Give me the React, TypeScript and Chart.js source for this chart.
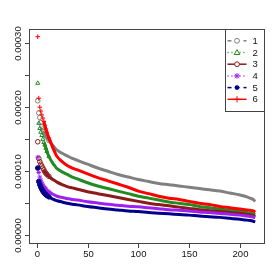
import React, { useEffect, useRef } from "react";
import { Chart, registerables } from "chart.js";
Chart.register(...registerables);

// x positions (index of the sorted values)
const xs = [1, 2, 3, 4, 5, 6, 7, 8, 9, 10, 12, 14, 16, 18, 20, 25, 30, 35, 40, 50, 60, 70, 80, 90, 100, 110, 120, 130, 140, 150, 160, 170, 180, 190, 200, 205, 210, 213, 215];

// values in units of 1e-5
const unit = 1e-5;
const series1 = [21.0, 19.1, 18.4, 17.6, 17.0, 16.6, 16.2, 15.9, 15.6, 15.3, 14.8, 14.4, 14.0, 13.6, 13.3, 12.8, 12.4, 12.0, 11.7, 11.1, 10.5, 10.0, 9.5, 9.1, 8.7, 8.4, 8.1, 7.9, 7.7, 7.5, 7.3, 7.1, 6.9, 6.6, 6.3, 6.1, 5.8, 5.6, 5.3];
const series2 = [23.75, 17.5, 16.7, 16.1, 15.6, 15.0, 14.5, 14.1, 13.6, 13.1, 12.3, 11.7, 11.2, 10.8, 10.4, 9.9, 9.5, 9.1, 8.8, 8.2, 7.7, 7.3, 6.9, 6.5, 6.1, 5.8, 5.5, 5.2, 5.0, 4.8, 4.5, 4.3, 4.1, 3.9, 3.7, 3.6, 3.45, 3.35, 3.2];
const series3 = [14.6, 12.0, 11.5, 11.1, 10.8, 10.5, 10.2, 9.9, 9.7, 9.5, 9.2, 8.9, 8.7, 8.5, 8.3, 7.9, 7.6, 7.4, 7.2, 6.8, 6.5, 6.2, 5.9, 5.6, 5.3, 5.0, 4.8, 4.6, 4.4, 4.2, 4.0, 3.85, 3.7, 3.55, 3.4, 3.3, 3.15, 3.05, 2.9];
const series4 = [12.2, 9.8, 9.1, 8.6, 8.2, 7.9, 7.6, 7.4, 7.2, 7.0, 6.8, 6.6, 6.4, 6.25, 6.1, 5.9, 5.75, 5.6, 5.5, 5.25, 5.05, 4.85, 4.7, 4.55, 4.45, 4.3, 4.15, 4.0, 3.9, 3.8, 3.65, 3.55, 3.4, 3.3, 3.15, 3.05, 2.95, 2.85, 2.75];
const series5 = [10.5, 8.4, 7.9, 7.5, 7.2, 6.9, 6.7, 6.5, 6.35, 6.2, 6.0, 5.8, 5.65, 5.5, 5.4, 5.2, 5.0, 4.85, 4.75, 4.5, 4.3, 4.1, 3.95, 3.8, 3.7, 3.55, 3.45, 3.35, 3.25, 3.15, 3.0, 2.9, 2.8, 2.65, 2.5, 2.4, 2.3, 2.2, 2.1];
const series6 = [31.0, 21.4, 20.0, 19.4, 18.8, 18.3, 17.8, 17.2, 16.6, 16.1, 15.2, 14.4, 13.6, 12.9, 12.3, 11.5, 10.9, 10.5, 10.2, 9.6, 9.0, 8.5, 8.0, 7.5, 6.9, 6.5, 6.1, 5.8, 5.6, 5.3, 5.0, 4.8, 4.5, 4.3, 4.1, 4.0, 3.9, 3.8, 3.6];

const seriesLabels = ["1", "2", "3", "4", "5", "6"];
const seriesValues = [series1, series2, series3, series4, series5, series6];

const yTicks = [0, 0.00005, 0.0001, 0.00015, 0.0002, 0.00025, 0.0003];
const yTickLabels = ["0.00000", "", "0.00010", "", "0.00020", "", "0.00030"];
const xTicks = [0, 50, 100, 150, 200];
const xTickLabels = ["0", "50", "100", "150", "200"];

const colors = ["#808080", "#228B22", "#8B1A1A", "#A020F0", "#00008B", "#FF0000"];
const markers = ["circle", "triangle", "circle", "star", "dot", "plus"];
const legendDash = [[4, 4], [1, 3], [], [1, 3], [4, 4], []];

const FONT = '"Liberation Sans", Arial, sans-serif';

function drawMarker(ctx: CanvasRenderingContext2D, kind: string, x: number, y: number, r: number, color: string) {
  ctx.save();
  ctx.setLineDash([]);
  ctx.strokeStyle = color;
  ctx.fillStyle = color;
  ctx.lineWidth = 1;
  ctx.beginPath();
  if (kind === "circle") {
    ctx.fillStyle = "#fff";
    ctx.arc(x, y, r, 0, Math.PI * 2);
    ctx.fill();
    ctx.stroke();
  } else if (kind === "dot") {
    ctx.arc(x, y, r, 0, Math.PI * 2);
    ctx.fill();
  } else if (kind === "triangle") {
    const h = r * 1.2;
    ctx.fillStyle = "#fff";
    ctx.moveTo(x, y - h);
    ctx.lineTo(x + h, y + h * 0.7);
    ctx.lineTo(x - h, y + h * 0.7);
    ctx.closePath();
    ctx.fill();
    ctx.stroke();
  } else if (kind === "plus") {
    ctx.moveTo(x - r * 1.3, y);
    ctx.lineTo(x + r * 1.3, y);
    ctx.moveTo(x, y - r * 1.3);
    ctx.lineTo(x, y + r * 1.3);
    ctx.stroke();
  } else if (kind === "star") {
    const a = r * 1.2;
    const d = a * 0.75;
    ctx.moveTo(x - a, y);
    ctx.lineTo(x + a, y);
    ctx.moveTo(x, y - a);
    ctx.lineTo(x, y + a);
    ctx.moveTo(x - d, y - d);
    ctx.lineTo(x + d, y + d);
    ctx.moveTo(x - d, y + d);
    ctx.lineTo(x + d, y - d);
    ctx.stroke();
  }
  ctx.restore();
}

const axesPlugin = {
  id: "raxes",
  afterDraw(chart: any) {
    const ctx: CanvasRenderingContext2D = chart.ctx;
    const a = chart.chartArea;
    const sx = chart.scales.x;
    const sy = chart.scales.y;
    ctx.save();
    ctx.strokeStyle = "#444";
    ctx.lineWidth = 1;
    ctx.strokeRect(Math.round(a.left) + 0.5, Math.round(a.top) + 0.5, Math.round(a.right - a.left), Math.round(a.bottom - a.top));
    ctx.fillStyle = "#111";
    ctx.font = `9.5px ${FONT}`;
    // x ticks
    xTicks.forEach((v, i) => {
      const px = Math.round(sx.getPixelForValue(v)) + 0.5;
      ctx.beginPath();
      ctx.moveTo(px, Math.round(a.bottom) + 0.5);
      ctx.lineTo(px, Math.round(a.bottom) + 5);
      ctx.stroke();
      ctx.textAlign = "center";
      ctx.textBaseline = "alphabetic";
      ctx.fillText(xTickLabels[i], px, a.bottom + 13.5);
    });
    // y ticks
    yTicks.forEach((v, i) => {
      const py = Math.round(sy.getPixelForValue(v)) + 0.5;
      ctx.beginPath();
      ctx.moveTo(Math.round(a.left) + 0.5, py);
      ctx.lineTo(Math.round(a.left) - 4, py);
      ctx.stroke();
      if (yTickLabels[i]) {
        ctx.save();
        ctx.translate(a.left - 8, py);
        ctx.rotate(-Math.PI / 2);
        ctx.textAlign = "center";
        ctx.textBaseline = "alphabetic";
        ctx.fillText(yTickLabels[i], 0, 0);
        ctx.restore();
      }
    });
    // legend
    const lx0 = 225.5, ly0 = Math.round(a.top) + 0.5, lx1 = Math.round(a.right) + 0.5, ly1 = 111.5;
    ctx.fillStyle = "#fff";
    ctx.fillRect(lx0, ly0, lx1 - lx0, ly1 - ly0);
    ctx.strokeStyle = "#444";
    ctx.strokeRect(lx0, ly0, lx1 - lx0, ly1 - ly0);
    seriesLabels.forEach((lab, i) => {
      const y = 40.8 + i * 11.7;
      ctx.save();
      ctx.strokeStyle = colors[i];
      ctx.lineWidth = 1.5;
      ctx.setLineDash(legendDash[i]);
      ctx.beginPath();
      ctx.moveTo(227.5, y);
      ctx.lineTo(246.5, y);
      ctx.stroke();
      ctx.restore();
      drawMarker(ctx, markers[i], 237, y, 2.4, colors[i]);
      ctx.fillStyle = "#111";
      ctx.textAlign = "left";
      ctx.textBaseline = "middle";
      ctx.font = `9.5px ${FONT}`;
      ctx.fillText(lab, 252.5, y + 0.5);
    });
    ctx.restore();
  },
};

const pointStyleFor: Record<string, string> = {
  circle: "circle",
  dot: "circle",
  triangle: "triangle",
  star: "star",
  plus: "cross",
};

export default function App() {
  const ref = useRef<HTMLCanvasElement | null>(null);
  useEffect(() => {
    if (!ref.current) return;
    const datasets = seriesValues.map((vals, i) => ({
      label: seriesLabels[i],
      data: vals.map((v, j) => ({ x: xs[j], y: v * unit })),
      borderColor: colors[i],
      backgroundColor: markers[i] === "dot" ? colors[i] : "rgba(255,255,255,0)",
      pointBorderColor: colors[i],
      pointBackgroundColor: markers[i] === "dot" ? colors[i] : "rgba(255,255,255,0)",
      borderWidth: 3,
      pointStyle: pointStyleFor[markers[i]],
      pointBorderWidth: 1,
      pointRadius: (c: any) => (xs[c.dataIndex] <= 12 ? 2.3 : 0),
      pointHoverRadius: 0,
      cubicInterpolationMode: "monotone" as const,
      fill: false,
      order: 6 - i,
      segment: {
        borderColor: (c: any) => (xs[c.p0DataIndex] < 7 ? "rgba(0,0,0,0)" : undefined),
      },
    }));
    const chart = new Chart(ref.current, {
      type: "line",
      data: { datasets },
      options: {
        animation: false,
        responsive: false,
        parsing: false as any,
        layout: { padding: { left: 29, top: 29, right: 15, bottom: 36 } },
        plugins: { legend: { display: false }, tooltip: { enabled: false } },
        scales: {
          x: { type: "linear", display: false, min: -7.6, max: 223.6 },
          y: { type: "linear", display: false, min: -1.2e-5, max: 32.2e-5 },
        },
      },
      plugins: [axesPlugin],
    });
    return () => chart.destroy();
  }, []);
  return (
    <div style={{ position: "fixed", left: 0, top: 0, width: 279, height: 279, background: "#fff" }}>
      <canvas ref={ref} width={279} height={279} style={{ width: 279, height: 279 }} />
    </div>
  );
}
